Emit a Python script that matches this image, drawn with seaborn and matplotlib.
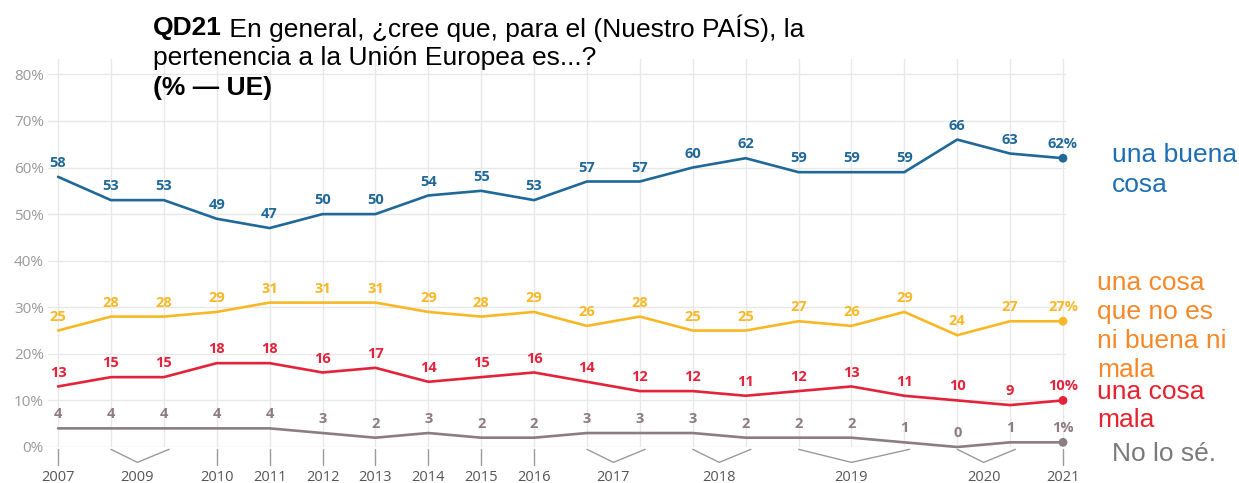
import pandas as pd
import seaborn as sns
import matplotlib.pyplot as plt

# --------------------- data --------------------- #
series = ['una buena cosa', 'ni buena ni mala', 'una cosa mala', 'No lo sé.']
buena = [58, 53, 53, 49, 47, 50, 50, 54, 55, 53, 57, 57, 60, 62, 59, 59, 59, 66, 63, 62]
neutra = [25, 28, 28, 29, 31, 31, 31, 29, 28, 29, 26, 28, 25, 25, 27, 26, 29, 24, 27, 27]
mala = [13, 15, 15, 18, 18, 16, 17, 14, 15, 16, 14, 12, 12, 11, 12, 13, 11, 10, 9, 10]
nolose = [4, 4, 4, 4, 4, 3, 2, 3, 2, 2, 3, 3, 3, 2, 2, 2, 1, 0, 1, 1]

# year label -> survey waves (index of points) belonging to it
years = ['2007', '2009', '2010', '2011', '2012', '2013', '2014', '2015', '2016',
         '2017', '2018', '2019', '2020', '2021']
year_waves = [[0], [1, 2], [3], [4], [5], [6], [7], [8], [9],
              [10, 11], [12, 13], [14, 15, 16], [17, 18], [19]]

line_colors = ['#1f6898', '#f8b826', '#e3223b', '#8d7c80']
label_colors = ['#1d6fb3', '#f5892a', '#e8212f', '#7a7a7a']

n = len(buena)
df = pd.DataFrame({
    'wave': list(range(n)) * 4,
    'value': buena + neutra + mala + nolose,
    'serie': sum([[s] * n for s in series], []),
})

# --------------------- figure --------------------- #
sns.set_style('white')
plt.rcParams['font.family'] = ['Open Sans', 'DejaVu Sans']

W, H = 1239, 483
fig = plt.figure(figsize=(W / 100, H / 100), dpi=100)
ax = fig.add_axes([48 / W, 1 - 447 / H, (1066 - 48) / W, (447 - 59) / H])

sns.lineplot(data=df, x='wave', y='value', hue='serie', palette=line_colors,
             linewidth=1.9, legend=False, ax=ax)
for ln in ax.lines:
    ln.set_clip_on(False)
    ln.set_zorder(3)

# end markers
last = df[df.wave == n - 1]
sns.scatterplot(data=last, x='wave', y='value', hue='serie', palette=line_colors,
                s=40, legend=False, ax=ax, zorder=4, clip_on=False, linewidth=0)

# value labels
for vals, col in zip([buena, neutra, mala, nolose], line_colors):
    for i, v in enumerate(vals):
        txt = f'{v}%' if i == n - 1 else str(v)
        ax.annotate(txt, (i, v), xytext=(0, 5), textcoords='offset points',
                    ha='center', va='bottom', fontsize=10.5, fontweight='bold',
                    color=col, zorder=5)

ax.set_xlim(-0.19, n - 1 + 0.057)
ax.set_ylim(0, 83.3)
ax.set_yticks(range(0, 81, 10))
ax.set_yticklabels([f'{t}%' for t in range(0, 81, 10)])
ax.set_xticks(range(n))
ax.set_xticklabels([])
ax.tick_params(axis='both', length=0)
ax.tick_params(axis='y', labelsize=11, labelcolor='#9a9a9a', pad=3)
ax.grid(True, color='#e8e8e8', linewidth=1)
ax.set_axisbelow(True)
ax.set_xlabel('')
ax.set_ylabel('')
sns.despine(ax=ax, left=True, bottom=True)

# year ticks / brackets under the axis
for yr, waves in zip(years, year_waves):
    if len(waves) == 1:
        x = waves[0]
        ax.plot([x, x], [-0.4, -3.9], color='#9a9a9a', lw=1, clip_on=False)
        xc = x
    else:
        x0, x1 = waves[0], waves[-1] + 0.1
        xc = (waves[0] + waves[-1]) / 2
        ax.plot([x0, xc, x1], [-0.5, -3.3, -0.5], color='#9a9a9a', lw=1,
                clip_on=False)
    ax.text(xc, -6.5, yr, ha='center', va='center', fontsize=10.5,
            color='#555555', clip_on=False)

# --------------------- title --------------------- #
tfont = ['Liberation Sans', 'DejaVu Sans']
tsize = 19
t1 = fig.text(153 / W, 1 - 28 / H, 'QD21', fontsize=tsize, fontweight='bold',
              family=tfont, va='center', ha='left', color='black')
fig.canvas.draw()
r = fig.canvas.get_renderer()
bb = t1.get_window_extent(renderer=r)
fig.text(bb.x1 / W, 1 - 28 / H, ' En general, ¿cree que, para el (Nuestro PAÍS), la',
         fontsize=tsize, family=tfont, va='center', ha='left', color='black')
fig.text(153 / W, 1 - 58 / H, 'pertenencia a la Unión Europea es...?',
         fontsize=tsize, family=tfont, va='center', ha='left', color='black')
fig.text(153 / W, 1 - 88 / H, '(% — UE)', fontsize=tsize, fontweight='bold',
         family=tfont, va='center', ha='left', color='black')

# --------------------- right-side labels --------------------- #
right_labels = [
    (1112, [155, 185], ['una buena', 'cosa'], label_colors[0]),
    (1097, [283, 312, 341, 370], ['una cosa', 'que no es', 'ni buena ni', 'mala'], label_colors[1]),
    (1097, [392, 420], ['una cosa', 'mala'], label_colors[2]),
    (1112, [454], ['No lo sé.'], label_colors[3]),
]
for x, ys, lines, col in right_labels:
    for y, s in zip(ys, lines):
        fig.text(x / W, 1 - y / H, s, fontsize=tsize, family=tfont, color=col,
                 va='center', ha='left')

fig.savefig('out.png', dpi=100)
